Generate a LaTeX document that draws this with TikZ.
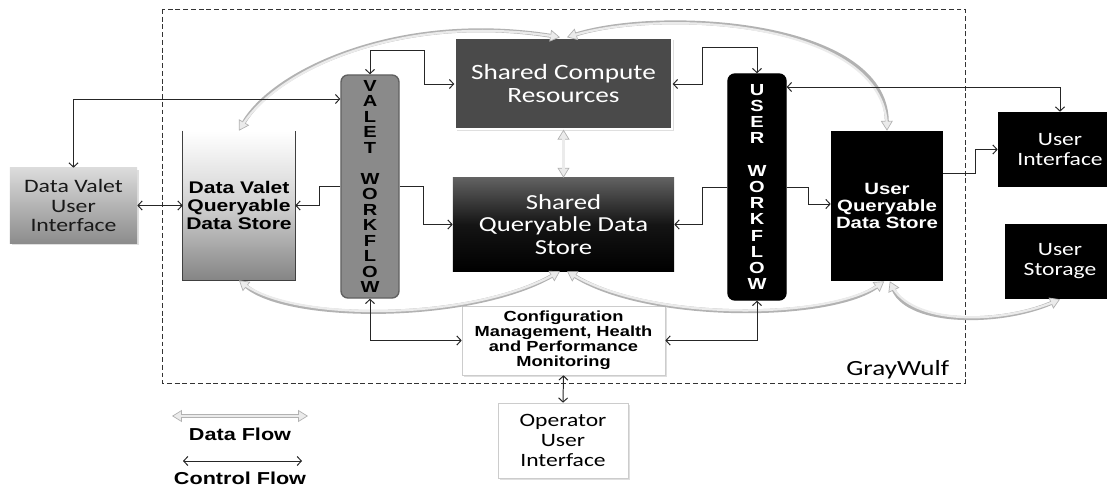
\documentclass[tikz,border=0pt]{standalone}
\usepackage{fontspec}
\newfontfamily\calibfont{Carlito}[FakeStretch=1.25]
\newfontfamily\arialfont{Liberation Sans}[FakeStretch=1.25]
\usetikzlibrary{arrows.meta,shadows}

\tikzset{
  % thin control-flow connectors
  cf/.style={draw=black!85, line width=0.7pt},
  % broad light data-flow connectors with kite heads at both ends
  dtip/.tip={Triangle[length=7pt,width=8.5pt,line width=0.5pt,fill=black!8]},
  dflow/.style={draw=black!30, line width=2.8pt, {dtip}-{dtip},
    postaction={draw=black!8, line width=1.6pt, -, shorten <=2.5pt, shorten >=2.5pt}},
  box/.style={inner sep=0pt, align=center},
  shade/.style={drop shadow={opacity=0.25, shadow xshift=1.2pt, shadow yshift=-1.2pt}},
  calibtxt/.style 2 args={font=\calibfont\fontsize{#1}{#2}\selectfont},
  boldtxt/.style 2 args={font=\arialfont\bfseries\fontsize{#1}{#2}\selectfont},
  wfbox/.style={box, rounded corners=5pt, minimum width=1.45cm, line width=1pt},
  blackbox/.style={box, fill=black, text=white},
  whitebox/.style={box, fill=white, draw=black!20, shade},
}

\begin{document}
\begin{tikzpicture}[x=0.025cm, y=-0.025cm, >={Straight Barb[length=3pt,width=6.5pt]}]
\useasboundingbox (0,0) rectangle (1107,486);

% GrayWulf system boundary
\draw[black!80, line width=0.7pt, dash pattern=on 3.5pt off 2pt] (162,9) rectangle (965,383);
\node[calibtxt={15.4pt}{16pt}, anchor=base east] (gw) at (954,375) {GrayWulf};

% ---- components ----
\node[box, shade, minimum width=3.175cm, minimum height=1.875cm,
      top color=black!14, bottom color=black!45, text=black!90,
      calibtxt={13.5pt}{13.6pt}] (dvui) at (73.5,205.5) {Data Valet\\User\\Interface};

\node[box, minimum width=2.8cm, minimum height=3.725cm,
      top color=white, bottom color=black!48, middle color=black!18,
      boldtxt={12pt}{12.8pt}] (dvqds) at (239,205.5) {Data Valet\\Queryable\\Data Store};
\draw[black!75, line width=1pt] (dvqds.north west) -- (dvqds.south west)
  -- (dvqds.south east) -- (dvqds.north east);

\node[wfbox, minimum height=5.575cm, fill=black!46, draw=black!62, text=black,
      boldtxt={11.4pt}{11pt}]
  (valet) at (370,186.5) {V\\A\\L\\E\\T\\[11pt]W\\O\\R\\K\\F\\L\\O\\W};

\node[box, shade, minimum width=5.425cm, minimum height=2.275cm,
      fill=black!71, draw=white, line width=1pt, text=white,
      calibtxt={15.5pt}{16.3pt}] (scr) at (563.5,83.5) {Shared Compute\\Resources};

\node[box, minimum width=5.525cm, minimum height=2.325cm,
      top color=black!62, bottom color=black, middle color=black!92, text=white,
      calibtxt={15.2pt}{16pt}] (sqds) at (563.5,224.5) {Shared\\Queryable Data\\Store};

\node[wfbox, minimum height=5.65cm, fill=black, draw=black, text=white,
      boldtxt={11.4pt}{11.55pt}]
  (uwf) at (757,187) {U\\S\\E\\R\\[11.55pt]W\\O\\R\\K\\F\\L\\O\\W};

\node[blackbox, minimum width=2.8cm, minimum height=3.75cm,
      boldtxt={11.6pt}{11.8pt}] (uqds) at (887,206) {User\\Queryable\\Data Store};

\node[blackbox, minimum width=3.1cm, minimum height=1.875cm,
      calibtxt={13.4pt}{14.2pt}] (ui) at (1060,149.5) {User\\Interface};

\node[blackbox, minimum width=2.75cm, minimum height=1.875cm,
      calibtxt={13.4pt}{14.2pt}] (us) at (1060,261.5) {User\\Storage};

\node[whitebox, minimum width=5.075cm, minimum height=1.725cm,
      boldtxt={10.4pt}{10.6pt}] (config) at (563.5,340.5)
  {Configuration\\Management, Health\\and Performance\\Monitoring};

\node[whitebox, minimum width=3.25cm, minimum height=1.875cm,
      calibtxt={13.4pt}{14.2pt}] (op) at (563,440.5) {Operator\\User\\Interface};

% ---- data flow ----
\draw[dflow] (dvqds.north) .. controls (275,70) and (400,12) .. ([xshift=-2.5pt]scr.north);
\draw[dflow] ([xshift=2.5pt]scr.north) .. controls (660,8) and (885,20) .. (uqds.north);
\draw[dflow] (scr.south) -- (sqds.north);
\draw[dflow] (dvqds.south) .. controls (290,322) and (470,322) .. ([xshift=-2.5pt]sqds.south);
\draw[dflow] ([xshift=2.5pt]sqds.south) .. controls (650,322) and (830,320) .. ([xshift=-2pt]uqds.south);
\draw[dflow] ([xshift=2pt]uqds.south) .. controls (910,325) and (1000,325) .. (us.south);

% ---- control flow ----
\draw[cf,<->] (dvui.north) |- (valet.west |- 0,99);
\draw[cf,<->] (dvui.east) -- (dvqds.west);
\draw[cf,->] (valet.west) -- (319,186.5) |- (dvqds.east);
\draw[cf,<->] (valet.north) |- (424,50) |- (scr.west |- 0,84);
\draw[cf,->] (valet.east) -- (423,186.5) |- (sqds.west);
\draw[cf,<->] (scr.east |- 0,84) -- (702,84) |- (757,47) -- (uwf.north);
\draw[cf,->] (uwf.west) -- (702,187) |- (sqds.east);
\draw[cf,->] (uwf.east) -- (808,187) |- (uqds.west |- 0,204);
\draw[cf,<->] (uwf.east |- 0,87) -| (ui.north);
\draw[cf,->] (uqds.east |- 0,173) -- (975,173) |- (ui.west);
\draw[cf,<->] (valet.south) |- (config.west);
\draw[cf,<->] (uwf.south) |- (config.east);
\draw[cf,<->] (config.south) -- (op.north);

% ---- legend ----
\coordinate (dfa) at (172,416);
\coordinate (dfb) at (308,416);
\coordinate (cfa) at (183,461);
\coordinate (cfb) at (302,461);
\draw[dflow] (dfa) -- (dfb);
\draw[cf,<->] (cfa) -- (cfb);
\node[boldtxt={12.3pt}{12pt}] (dflabel) at (240,434) {Data Flow};
\node[boldtxt={12.3pt}{12pt}] (cflabel) at (240,478) {Control Flow};
\end{tikzpicture}
\end{document}
